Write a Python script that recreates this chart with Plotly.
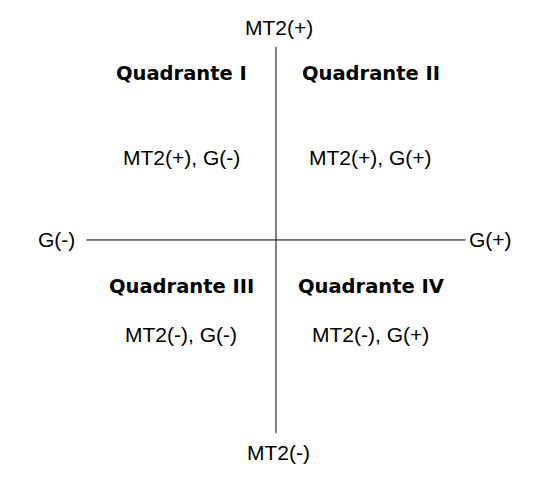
import plotly.graph_objects as go

# quadrant names and their meaning (G on the x axis, MT2 on the y axis)
quadrants = ["Quadrante I", "Quadrante II", "Quadrante III", "Quadrante IV"]
descriptions = ["MT2(+), G(-)", "MT2(+), G(+)", "MT2(-), G(-)", "MT2(-), G(+)"]
g_sign = [-1, 1, -1, 1]
mt2_sign = [1, 1, -1, -1]

axis_ends = [-1, 1]
x_axis_labels = ["G(-)", "G(+)"]
y_axis_labels = ["MT2(-)", "MT2(+)"]

REGULAR = "Liberation Sans, Arial, sans-serif"
BOLD = "DejaVu Sans, Liberation Sans, sans-serif"

fig = go.Figure()

# the two axes of the diagram
fig.add_trace(go.Scatter(x=axis_ends, y=[0, 0], mode="lines",
                         line=dict(color="black", width=1), hoverinfo="skip"))
fig.add_trace(go.Scatter(x=[0, 0], y=axis_ends, mode="lines",
                         line=dict(color="black", width=1), hoverinfo="skip"))

# labels at the ends of the axes
fig.add_annotation(x=-1.16, y=0, text=x_axis_labels[0], showarrow=False,
                   font=dict(family=REGULAR, size=21, color="black"))
fig.add_annotation(x=1.13, y=0, text=x_axis_labels[1], showarrow=False,
                   font=dict(family=REGULAR, size=21, color="black"))
fig.add_annotation(x=0.015, y=-1.1, text=y_axis_labels[0], showarrow=False,
                   font=dict(family=REGULAR, size=21, color="black"))
fig.add_annotation(x=0.015, y=1.1, text=y_axis_labels[1], showarrow=False,
                   font=dict(family=REGULAR, size=21, color="black"))

# quadrant titles and descriptions
for name, desc, gs, ms in zip(quadrants, descriptions, g_sign, mt2_sign):
    title_y = 0.865 if ms > 0 else -0.24
    desc_y = 0.425 if ms > 0 else -0.49
    fig.add_annotation(x=0.5 * gs, y=title_y, text="<b>" + name + "</b>", showarrow=False,
                       font=dict(family=BOLD, size=19.5, color="black"))
    fig.add_annotation(x=0.5 * gs, y=desc_y, text=desc, showarrow=False,
                       font=dict(family=REGULAR, size=21, color="black"))

# page body keeps its 8px margin, so the figure is drawn a bit smaller
fig.update_layout(
    width=542, height=473,
    margin=dict(l=0, r=0, t=0, b=0),
    paper_bgcolor="white", plot_bgcolor="white",
    showlegend=False,
    xaxis=dict(range=[-1.414, 1.446], visible=False, fixedrange=True),
    yaxis=dict(range=[-1.249, 1.202], visible=False, fixedrange=True),
)

fig.write_html("out.html")
